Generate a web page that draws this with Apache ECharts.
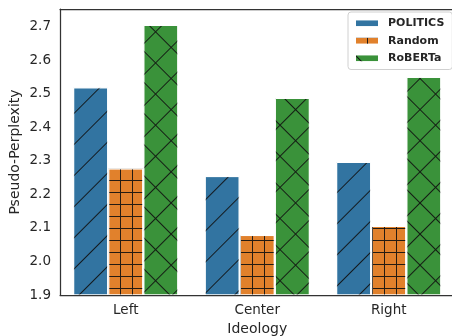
<!DOCTYPE html>
<html>
<head>
<meta charset="utf-8">
<script src="https://cdn.jsdelivr.net/npm/echarts@6/dist/echarts.min.js"></script>
<style>
  html, body { margin: 0; padding: 0; background: #fff; }
  #chart { width: 452px; height: 336px; }
</style>
</head>
<body>
<div id="chart"></div>
<script>
var categories = ['Left', 'Center', 'Right'];
var politicsVals = [2.52, 2.255, 2.297];
var randomVals = [2.278, 2.079, 2.106];
var robertaVals = [2.706, 2.488, 2.551];
var seriesNames = ['POLITICS', 'Random', 'RoBERTa'];
var colors = ['#3274a1', '#e1812c', '#3a923a'];

var hatchColor = 'rgba(15,15,15,0.9)';
var spineColor = '#333';
var font = 'DejaVu Sans';

// '/' hatch
var slashDecal = {
    symbol: 'rect',
    symbolSize: 1,
    symbolKeepAspect: false,
    color: hatchColor,
    dashArrayX: [1, 0],
    dashArrayY: [1, 21],
    rotation: -Math.PI / 4
};
// '+' hatch
var plusDecal = {
    symbol: 'rect',
    symbolSize: 1,
    symbolKeepAspect: false,
    color: hatchColor,
    dashArrayX: [[1, 0], [1, 11]],
    dashArrayY: [1, 0, 11, 0],
    rotation: 0
};
// 'x' hatch
var crossDecal = {
    symbol: 'rect',
    symbolSize: 1,
    symbolKeepAspect: false,
    color: hatchColor,
    dashArrayX: [[1, 0], [1, 21]],
    dashArrayY: [1, 0, 21, 0],
    rotation: Math.PI / 4
};

function barSeries(name, data, color, decal) {
    return {
        name: name,
        type: 'bar',
        data: data,
        barGap: 0,
        barCategoryGap: '20%',
        z: 2,
        itemStyle: {
            color: color,
            borderColor: '#fff',
            borderWidth: 1,
            decal: decal
        }
    };
}

var option = {
    animation: false,
    textStyle: { fontFamily: font },
    grid: {
        left: 60,
        top: 9,
        width: 394.5,
        height: 286,
        outerBoundsMode: 'none',
        show: false
    },
    legend: {
        orient: 'vertical',
        left: 348,
        top: 12,
        data: seriesNames,
        icon: 'rect',
        itemWidth: 24,
        itemHeight: 8,
        itemGap: 5,
        padding: [5, 8, 5, 6],
        borderColor: '#d0d0d0',
        borderWidth: 1,
        borderRadius: 3,
        backgroundColor: '#fff',
        textStyle: {
            fontFamily: font,
            fontSize: 11,
            fontWeight: 'bold',
            color: '#262626',
            lineHeight: 12.5,
            padding: [0, 0, 0, 4]
        }
    },
    xAxis: [{
        type: 'category',
        data: categories,
        z: 5,
        name: 'Ideology',
        nameLocation: 'middle',
        nameGap: 27,
        nameMoveOverlap: false,
        nameTextStyle: { fontFamily: font, fontSize: 14, color: '#262626' },
        axisLine: { lineStyle: { color: spineColor, width: 1.25 } },
        axisTick: { show: false },
        axisLabel: { margin: 8, fontFamily: font, fontSize: 13.5, color: '#262626' }
    }, {
        // top spine
        type: 'category',
        data: categories,
        position: 'top',
        z: 5,
        axisLine: { lineStyle: { color: spineColor, width: 1.25 } },
        axisTick: { show: false },
        axisLabel: { show: false }
    }],
    yAxis: {
        type: 'value',
        min: 1.9,
        max: 2.7537,
        interval: 0.1,
        z: 5,
        name: 'Pseudo-Perplexity',
        nameLocation: 'middle',
        nameGap: 38,
        nameMoveOverlap: false,
        nameTextStyle: { fontFamily: font, fontSize: 14, color: '#262626' },
        axisLine: { show: true, lineStyle: { color: spineColor, width: 1.25 } },
        axisTick: { show: false },
        splitLine: { show: false },
        axisLabel: {
            margin: 9,
            fontFamily: font,
            fontSize: 13.5,
            color: '#262626',
            formatter: function (v) {
                if (Math.abs(v * 10 - Math.round(v * 10)) > 1e-6) return '';
                return v.toFixed(1);
            }
        }
    },
    series: [
        barSeries(seriesNames[0], politicsVals, colors[0], slashDecal),
        barSeries(seriesNames[1], randomVals, colors[1], plusDecal),
        barSeries(seriesNames[2], robertaVals, colors[2], crossDecal)
    ]
};

var myChart = echarts.init(document.getElementById('chart'));
myChart.setOption(option);
</script>
</body>
</html>
